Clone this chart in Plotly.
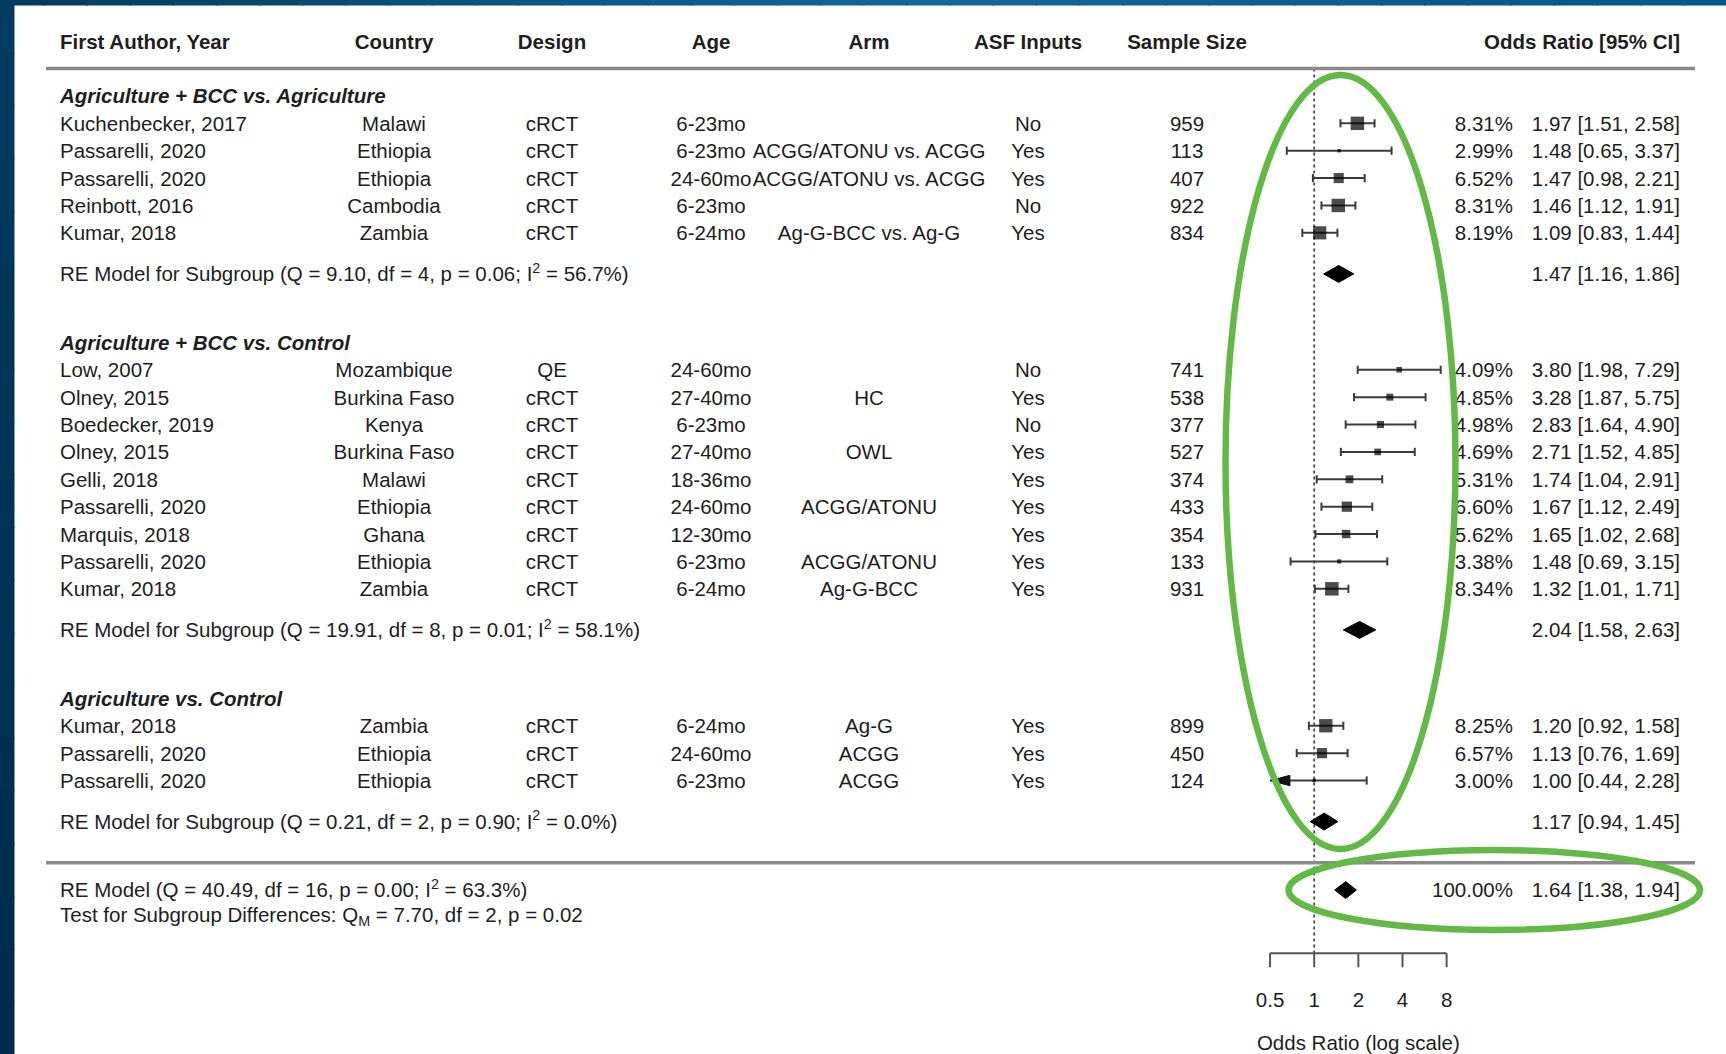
import math
import plotly.graph_objects as go

W, H = 1726, 1054

# ---------------- data ----------------
group_titles = ["Agriculture + BCC vs. Agriculture",
                "Agriculture + BCC vs. Control",
                "Agriculture vs. Control"]
group_sizes = [5, 9, 3]

authors = ["Kuchenbecker, 2017", "Passarelli, 2020", "Passarelli, 2020", "Reinbott, 2016", "Kumar, 2018",
           "Low, 2007", "Olney, 2015", "Boedecker, 2019", "Olney, 2015", "Gelli, 2018",
           "Passarelli, 2020", "Marquis, 2018", "Passarelli, 2020", "Kumar, 2018",
           "Kumar, 2018", "Passarelli, 2020", "Passarelli, 2020"]
countries = ["Malawi", "Ethiopia", "Ethiopia", "Cambodia", "Zambia",
             "Mozambique", "Burkina Faso", "Kenya", "Burkina Faso", "Malawi",
             "Ethiopia", "Ghana", "Ethiopia", "Zambia",
             "Zambia", "Ethiopia", "Ethiopia"]
designs = ["cRCT", "cRCT", "cRCT", "cRCT", "cRCT",
           "QE", "cRCT", "cRCT", "cRCT", "cRCT", "cRCT", "cRCT", "cRCT", "cRCT",
           "cRCT", "cRCT", "cRCT"]
ages = ["6-23mo", "6-23mo", "24-60mo", "6-23mo", "6-24mo",
        "24-60mo", "27-40mo", "6-23mo", "27-40mo", "18-36mo", "24-60mo", "12-30mo", "6-23mo", "6-24mo",
        "6-24mo", "24-60mo", "6-23mo"]
arms = ["", "ACGG/ATONU vs. ACGG", "ACGG/ATONU vs. ACGG", "", "Ag-G-BCC vs. Ag-G",
        "", "HC", "", "OWL", "", "ACGG/ATONU", "", "ACGG/ATONU", "Ag-G-BCC",
        "Ag-G", "ACGG", "ACGG"]
asf_inputs = ["No", "Yes", "Yes", "No", "Yes",
              "No", "Yes", "No", "Yes", "Yes", "Yes", "Yes", "Yes", "Yes",
              "Yes", "Yes", "Yes"]
sample_size = [959, 113, 407, 922, 834,
               741, 538, 377, 527, 374, 433, 354, 133, 931,
               899, 450, 124]
weights = [8.31, 2.99, 6.52, 8.31, 8.19,
           4.09, 4.85, 4.98, 4.69, 5.31, 6.60, 5.62, 3.38, 8.34,
           8.25, 6.57, 3.00]
or_est = [1.97, 1.48, 1.47, 1.46, 1.09,
          3.80, 3.28, 2.83, 2.71, 1.74, 1.67, 1.65, 1.48, 1.32,
          1.20, 1.13, 1.00]
ci_lo = [1.51, 0.65, 0.98, 1.12, 0.83,
         1.98, 1.87, 1.64, 1.52, 1.04, 1.12, 1.02, 0.69, 1.01,
         0.92, 0.76, 0.44]
ci_hi = [2.58, 3.37, 2.21, 1.91, 1.44,
         7.29, 5.75, 4.90, 4.85, 2.91, 2.49, 2.68, 3.15, 1.71,
         1.58, 1.69, 2.28]

sub_labels = ["RE Model for Subgroup (Q = 9.10, df = 4, p = 0.06; I<sup>2</sup> = 56.7%)",
              "RE Model for Subgroup (Q = 19.91, df = 8, p = 0.01; I<sup>2</sup> = 58.1%)",
              "RE Model for Subgroup (Q = 0.21, df = 2, p = 0.90; I<sup>2</sup> = 0.0%)"]
sub_est = [1.47, 2.04, 1.17]
sub_lo = [1.16, 1.58, 0.94]
sub_hi = [1.86, 2.63, 1.45]

overall_label = "RE Model (Q = 40.49, df = 16, p = 0.00; I<sup>2</sup> = 63.3%)"
overall_weight = 100.00
overall_est, overall_lo, overall_hi = 1.64, 1.38, 1.94
test_label = "Test for Subgroup Differences: Q<sub>M</sub> = 7.70, df = 2, p = 0.02"

headers = ["First Author, Year", "Country", "Design", "Age", "Arm",
           "ASF Inputs", "Sample Size", "Odds Ratio [95% CI]"]
axis_ticks = [0.5, 1, 2, 4, 8]
axis_tick_labels = ["0.5", "1", "2", "4", "8"]
axis_title = "Odds Ratio (log scale)"
alim = (0.5, 8)

# ---------------- layout constants (pixels / rows) ----------------
FONT = "Liberation Sans, Arial, sans-serif"
TXT = "#1e1e1e"
FS = 20.5
PX_PER_ROW = 27.383
Y0_PX = 41.17
X1_PX = 1314.2
PX_PER_DOUBLING = 44.14
TXT_DY = 0.085   # compensates plotly's text baseline placement

col_x = {"author": 60, "country": 394, "design": 552, "age": 711, "arm": 869,
         "asf": 1028, "n": 1187, "weight": 1513, "or": 1680}

# row positions
study_rows, title_rows, sub_rows = [], [], []
r = 2
for g, n in enumerate(group_sizes):
    title_rows.append(r)
    study_rows += [r + 1 + i for i in range(n)]
    sub_rows.append(r + n + 1.5)
    r = r + n + 1.5 + 2.5
bottom_line_row = sub_rows[-1] + 1.5
overall_row = bottom_line_row + 1
test_row = overall_row + 0.9
axis_row = 33.31
tick_end_row = 33.82
tick_label_row = 34.99
axis_title_row = 36.56

fig = go.Figure()

def text_trace(xs, ys, texts, pos, bold=False, size=FS, axis="x2"):
    keep = [(x, y, t) for x, y, t in zip(xs, ys, texts) if t]
    xs = [k[0] for k in keep]
    ys = [k[1] + TXT_DY for k in keep]
    texts = [("<b>%s</b>" % k[2]) if bold else k[2] for k in keep]
    fig.add_trace(go.Scatter(x=xs, y=ys, text=texts, mode="text", textposition=pos,
                             textfont=dict(family=FONT, size=size, color=TXT),
                             xaxis=axis, yaxis="y", hoverinfo="skip", cliponaxis=False))

# header
hx = [col_x["author"], col_x["country"], col_x["design"], col_x["age"], col_x["arm"],
      col_x["asf"], col_x["n"], col_x["or"]]
text_trace([hx[0]], [0], [headers[0]], "middle right", bold=True)
text_trace(hx[1:7], [0] * 6, headers[1:7], "middle center", bold=True)
text_trace([hx[7]], [0], [headers[7]], "middle left", bold=True)

# horizontal rules
for rr in (1.0, bottom_line_row):
    fig.add_trace(go.Scatter(x=[46, 1695], y=[rr, rr], mode="lines", xaxis="x2", yaxis="y",
                             line=dict(color="#8a8a8a", width=3.5), hoverinfo="skip"))

# group titles
text_trace([col_x["author"]] * 3, title_rows,
           ["<b><i>%s</i></b>" % t for t in group_titles], "middle right")

# study columns
ns = len(authors)
text_trace([col_x["author"]] * ns, study_rows, authors, "middle right")
text_trace([col_x["country"]] * ns, study_rows, countries, "middle center")
text_trace([col_x["design"]] * ns, study_rows, designs, "middle center")
text_trace([col_x["age"]] * ns, study_rows, ages, "middle center")
text_trace([col_x["arm"]] * ns, study_rows, arms, "middle center")
text_trace([col_x["asf"]] * ns, study_rows, asf_inputs, "middle center")
text_trace([col_x["n"]] * ns, study_rows, [str(v) for v in sample_size], "middle center")
text_trace([col_x["weight"]] * ns, study_rows, ["%.2f%%" % w for w in weights], "middle left")
text_trace([col_x["or"]] * ns, study_rows,
           ["%.2f [%.2f, %.2f]" % (e, l, h) for e, l, h in zip(or_est, ci_lo, ci_hi)], "middle left")

# subgroup rows
text_trace([col_x["author"]] * 3, sub_rows, sub_labels, "middle right")
text_trace([col_x["or"]] * 3, sub_rows,
           ["%.2f [%.2f, %.2f]" % (e, l, h) for e, l, h in zip(sub_est, sub_lo, sub_hi)], "middle left")

# overall
text_trace([col_x["author"]], [overall_row], [overall_label], "middle right")
text_trace([col_x["author"]], [test_row], [test_label], "middle right")
text_trace([col_x["weight"]], [overall_row], ["%.2f%%" % overall_weight], "middle left")
text_trace([col_x["or"]], [overall_row],
           ["%.2f [%.2f, %.2f]" % (overall_est, overall_lo, overall_hi)], "middle left")

# reference line at OR = 1
fig.add_trace(go.Scatter(x=[1, 1], y=[1.0, axis_row], mode="lines", xaxis="x", yaxis="y",
                         line=dict(color="#4a4a4a", width=1.8, dash="dot"), hoverinfo="skip"))

# CI whiskers
CAP = 0.15
wx, wy = [], []
arrows = []
for e, l, h, rr in zip(or_est, ci_lo, ci_hi, study_rows):
    left = max(l, alim[0])
    wx += [left, h, None, h, h, None]
    wy += [rr, rr, None, rr - CAP, rr + CAP, None]
    if l < alim[0]:
        arrows.append(rr)
    else:
        wx += [l, l, None]
        wy += [rr - CAP, rr + CAP, None]
fig.add_trace(go.Scatter(x=wx, y=wy, mode="lines", xaxis="x", yaxis="y",
                         line=dict(color="#3c3c3c", width=2), hoverinfo="skip"))
for rr in arrows:
    tip = alim[0]
    base = alim[0] * 2 ** 0.45
    fig.add_trace(go.Scatter(x=[tip, base, base, tip], y=[rr, rr - 0.19, rr + 0.19, rr],
                             mode="lines", fill="toself", fillcolor="#111111",
                             line=dict(color="#111111", width=1), xaxis="x", yaxis="y",
                             hoverinfo="skip"))

# squares sized by weight
wmin, wmax = min(weights), max(weights)
sizes = [3.5 + (w - wmin) / (wmax - wmin) * 10 for w in weights]
fig.add_trace(go.Scatter(x=or_est, y=study_rows, mode="markers", xaxis="x", yaxis="y",
                         marker=dict(symbol="square", size=sizes, color="#000000",
                                     line=dict(width=0)), hoverinfo="skip"))

# diamonds
DH = 0.31
for e, l, h, rr in list(zip(sub_est, sub_lo, sub_hi, sub_rows)) + [(overall_est, overall_lo, overall_hi, overall_row)]:
    fig.add_trace(go.Scatter(x=[l, e, h, e, l], y=[rr, rr - DH, rr, rr + DH, rr],
                             mode="lines", fill="toself", fillcolor="#000000",
                             line=dict(color="#000000", width=1), xaxis="x", yaxis="y",
                             hoverinfo="skip"))

# x axis (drawn manually as in metafor forest plots)
fig.add_trace(go.Scatter(x=[alim[0], alim[1]], y=[axis_row, axis_row], mode="lines",
                         xaxis="x", yaxis="y", line=dict(color="#555555", width=2), hoverinfo="skip"))
tx, ty = [], []
for t in axis_ticks:
    tx += [t, t, None]
    ty += [axis_row, tick_end_row, None]
fig.add_trace(go.Scatter(x=tx, y=ty, mode="lines", xaxis="x", yaxis="y",
                         line=dict(color="#555555", width=2), hoverinfo="skip"))
text_trace(axis_ticks, [tick_label_row] * len(axis_ticks), axis_tick_labels, "middle center", axis="x")
text_trace([math.sqrt(alim[0] * alim[1])], [axis_title_row], [axis_title], "middle center", axis="x")

# ---------------- decorations (slide frame + hand-drawn highlight ellipses) ----------------
def px_to_row(py):
    return (py - Y0_PX) / PX_PER_ROW

def hexmix(c1, c2, t):
    a = [int(c1[i:i + 2], 16) for i in (1, 3, 5)]
    b = [int(c2[i:i + 2], 16) for i in (1, 3, 5)]
    return "#%02x%02x%02x" % tuple(round(a[k] + (b[k] - a[k]) * t) for k in range(3))

shapes = []
stops = [(0.0, "#003a5c"), (0.35, "#0a5a8a"), (0.55, "#14679a"), (0.8, "#0a5d8d"), (1.0, "#005a8a")]
NSEG = 40
for i in range(NSEG):
    t = (i + 0.5) / NSEG
    for j in range(len(stops) - 1):
        if stops[j][0] <= t <= stops[j + 1][0]:
            c = hexmix(stops[j][1], stops[j + 1][1], (t - stops[j][0]) / (stops[j + 1][0] - stops[j][0]))
            break
    shapes.append(dict(type="rect", xref="paper", yref="paper", x0=i / NSEG, x1=(i + 1) / NSEG + 0.001,
                       y0=1 - 5.5 / H, y1=1, fillcolor=c, line=dict(width=0), layer="above"))
for i in range(20):
    t = (i + 0.5) / 20
    c = hexmix("#003c60", "#002b48", t)
    shapes.append(dict(type="rect", xref="paper", yref="paper", x0=0, x1=14.5 / W,
                       y0=1 - (i + 1) / 20 - 0.001, y1=1 - i / 20, fillcolor=c, line=dict(width=0),
                       layer="above"))
GREEN = "#62b946"
shapes.append(dict(type="circle", xref="x2", yref="y", x0=1225.5, x1=1455.5,
                   y0=px_to_row(75), y1=px_to_row(849), line=dict(color=GREEN, width=6.5), layer="above"))
shapes.append(dict(type="circle", xref="x2", yref="y", x0=1288.5, x1=1700,
                   y0=px_to_row(850), y1=px_to_row(930), line=dict(color=GREEN, width=6.5), layer="above"))

log_left = math.log10(2 ** ((0 - X1_PX) / PX_PER_DOUBLING))
log_right = math.log10(2 ** ((W - X1_PX) / PX_PER_DOUBLING))

fig.update_layout(
    width=W, height=H, autosize=False,
    margin=dict(l=0, r=0, t=0, b=0, pad=0),
    paper_bgcolor="white", plot_bgcolor="white",
    showlegend=False,
    xaxis=dict(type="log", range=[log_left, log_right], domain=[0, 1], visible=False, fixedrange=True),
    xaxis2=dict(range=[0, W], overlaying="x", anchor="y", visible=False, fixedrange=True),
    yaxis=dict(range=[px_to_row(H), px_to_row(0)], domain=[0, 1], visible=False, fixedrange=True),
    shapes=shapes,
)

fig.write_html("out.html", config={"displayModeBar": False},
               post_script="document.body.style.margin='0px';document.body.style.overflow='hidden';")
